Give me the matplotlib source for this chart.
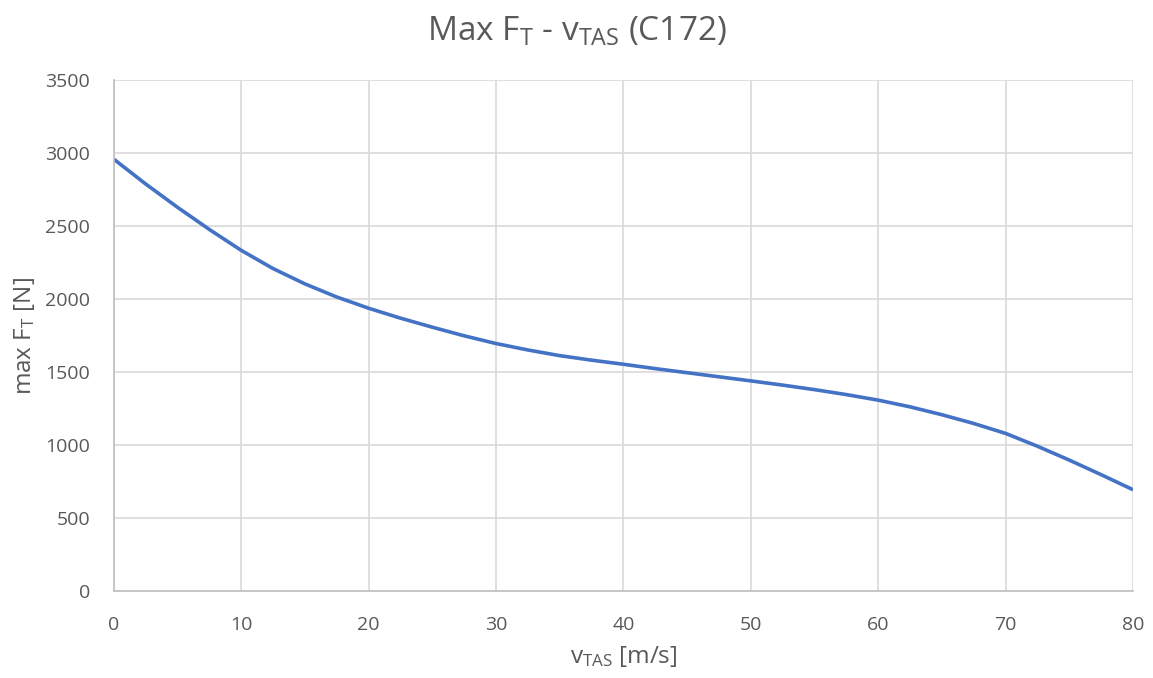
"""Max thrust vs true airspeed (C172)"""
import matplotlib
matplotlib.use("Agg")
from matplotlib import pyplot as plt

# values
v_tas = [0, 2.5, 5, 7.5, 10, 12.5, 15, 17.5, 20, 22.5, 25, 27.5, 30, 32.5, 35, 37.5,
         40, 42.5, 45, 47.5, 50, 52.5, 55, 57.5, 60, 62.5, 65, 67.5, 70, 72.5, 75, 77.5, 80]
max_ft = [2960, 2790, 2630, 2478, 2335, 2210, 2105, 2015, 1938, 1870, 1808, 1749, 1696, 1652, 1613, 1582,
          1554, 1524, 1496, 1468, 1440, 1411, 1380, 1346, 1308, 1262, 1208, 1148, 1080, 992, 897, 797, 694]

x_ticks = list(range(0, 81, 10))
y_ticks = list(range(0, 3501, 500))

plt.rcParams["font.family"] = ["Open Sans", "DejaVu Sans"]
plt.rcParams["mathtext.fontset"] = "custom"
plt.rcParams["mathtext.rm"] = "Open Sans"
plt.rcParams["mathtext.it"] = "Open Sans"

text_col = "#595959"
grid_col = "#d9d9d9"

fig = plt.figure(figsize=(11.53, 6.78), dpi=100)
ax = fig.add_axes([0.0986, 0.1283, 0.8841, 0.7533])

ax.plot(v_tas, max_ft, color="#4472C4", lw=2.6, solid_capstyle="butt", solid_joinstyle="round")

ax.set_xlim(0, 80)
ax.set_ylim(0, 3500)
ax.set_xticks(x_ticks)
ax.set_yticks(y_ticks)
ax.grid(True, color=grid_col, lw=1.2)
ax.set_axisbelow(True)

for side in ["top", "right"]:
    ax.spines[side].set_visible(False)
for side in ["left", "bottom"]:
    ax.spines[side].set_color("#bfbfbf")
    ax.spines[side].set_linewidth(1.2)

ax.tick_params(length=0, labelsize=14, colors=text_col)
ax.tick_params(axis="y", pad=17)
ax.tick_params(axis="x", pad=18)

ax.set_xlabel(r"v$_\mathrm{TAS}$ [m/s]", fontsize=17.5, color=text_col, labelpad=7)
ax.set_ylabel(r"max F$_\mathrm{T}$ [N]", fontsize=17.5, color=text_col, labelpad=6)
fig.suptitle(r"Max F$_\mathrm{T}$ - v$_\mathrm{TAS}$ (C172)", fontsize=24, color=text_col, y=0.978)

fig.savefig("out.png", dpi=100, facecolor="white")
